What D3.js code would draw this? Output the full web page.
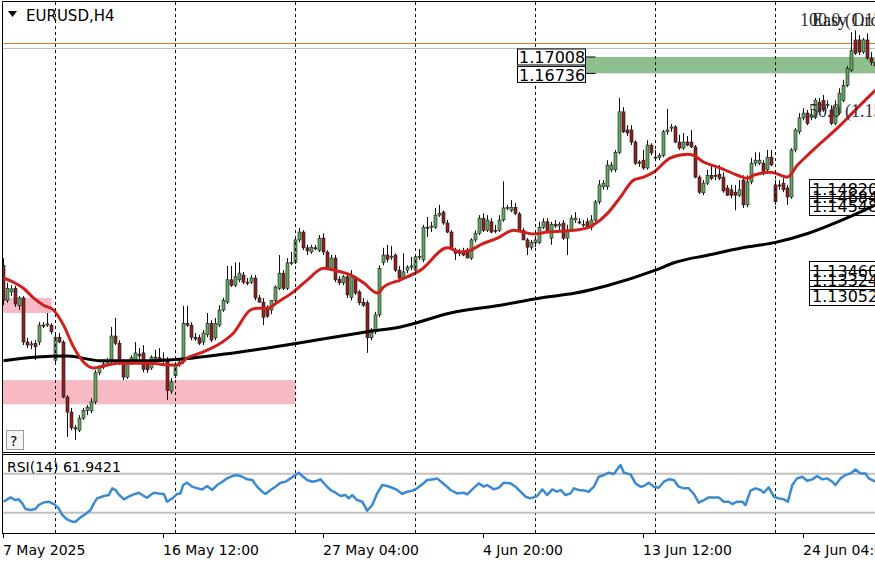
<!DOCTYPE html>
<html><head><meta charset="utf-8">
<script src="https://cdn.jsdelivr.net/npm/d3@7/dist/d3.min.js"></script>
<style>body{margin:0;background:#fff;overflow:hidden}svg{display:block;font-family:"DejaVu Sans",sans-serif}</style>
</head><body><svg id="c" width="875" height="562"></svg>
<script>
// ---- data (EURUSD H4) ----
const opens=[1.1356,1.1298,1.1312,1.1318,1.1289,1.1302,1.1229,1.1224,1.1227,1.1229,1.1257,1.1257,1.1257,1.1199,1.1237,1.1229,1.1138,1.1113,1.1087,1.1083,
1.1103,1.1116,1.1115,1.1130,1.1178,1.1188,1.1194,1.1198,1.1239,1.1227,1.1196,1.1171,1.1196,1.1199,1.1209,1.1211,1.1193,1.1186,1.1204,1.1203,
1.1201,1.1199,1.1148,1.1173,1.1193,1.1196,1.1260,1.1257,1.1237,1.1236,1.1229,1.1241,1.1260,1.1236,1.1257,1.1282,1.1295,1.1332,1.1323,1.1332,
1.1340,1.1328,1.1328,1.1335,1.1302,1.1295,1.1285,1.1282,1.1298,1.1318,1.1343,1.1318,1.1360,1.1361,1.1398,1.1411,1.1385,1.1378,1.1385,1.1381,
1.1401,1.1378,1.1351,1.1368,1.1333,1.1327,1.1337,1.1303,1.1335,1.1312,1.1295,1.1294,1.1236,1.1246,1.1274,1.1361,1.1373,1.1370,1.1373,1.1348,
1.1335,1.1348,1.1353,1.1348,1.1370,1.1365,1.1419,1.1419,1.1419,1.1439,1.1444,1.1426,1.1411,1.1380,1.1376,1.1378,1.1381,1.1368,1.1398,1.1409,
1.1434,1.1414,1.1428,1.1414,1.1414,1.1431,1.1451,1.1447,1.1452,1.1441,1.1414,1.1398,1.1386,1.1393,1.1394,1.1419,1.1428,1.1401,1.1424,1.1421,
1.1426,1.1401,1.1414,1.1431,1.1428,1.1423,1.1428,1.1419,1.1431,1.1461,1.1486,1.1486,1.1514,1.1514,1.1543,1.1610,1.1580,1.1580,1.1560,1.1527,
1.1530,1.1517,1.1555,1.1535,1.1534,1.1538,1.1577,1.1583,1.1585,1.1560,1.1550,1.1560,1.1560,1.1552,1.1502,1.1476,1.1492,1.1505,1.1505,1.1507,
1.1502,1.1484,1.1481,1.1477,1.1472,1.1497,1.1456,1.1494,1.1525,1.1525,1.1525,1.1514,1.1535,1.1489,1.1489,1.1492,1.1484,1.1469,1.1547,1.1577,
1.1600,1.1608,1.1601,1.1601,1.1626,1.1629,1.1621,1.1613,1.1591,1.1608,1.1629,1.1654,1.1679,1.1729,1.1729,1.1709,1.1729,1.1699,1.1692];
const highs=[1.1368,1.1327,1.1323,1.1322,1.1305,1.1305,1.1236,1.1231,1.1232,1.1262,1.1262,1.1277,1.1260,1.1242,1.1244,1.1232,1.1141,1.1120,1.1092,1.1108,
1.1120,1.1125,1.1136,1.1183,1.1191,1.1196,1.1203,1.1254,1.1269,1.1232,1.1199,1.1199,1.1207,1.1229,1.1219,1.1224,1.1199,1.1207,1.1216,1.1219,
1.1212,1.1204,1.1169,1.1196,1.1202,1.1289,1.1289,1.1262,1.1244,1.1241,1.1249,1.1277,1.1265,1.1269,1.1290,1.1302,1.1355,1.1355,1.1361,1.1361,
1.1345,1.1335,1.1340,1.1340,1.1307,1.1302,1.1290,1.1290,1.1323,1.1373,1.1348,1.1368,1.1378,1.1401,1.1418,1.1414,1.1390,1.1390,1.1390,1.1406,
1.1409,1.1381,1.1373,1.1373,1.1338,1.1340,1.1340,1.1348,1.1338,1.1315,1.1302,1.1298,1.1252,1.1279,1.1356,1.1385,1.1390,1.1388,1.1376,1.1355,
1.1376,1.1356,1.1370,1.1373,1.1383,1.1423,1.1436,1.1428,1.1451,1.1456,1.1447,1.1431,1.1414,1.1385,1.1383,1.1385,1.1385,1.1401,1.1414,1.1439,
1.1442,1.1439,1.1434,1.1423,1.1439,1.1495,1.1456,1.1464,1.1459,1.1444,1.1418,1.1401,1.1398,1.1401,1.1428,1.1434,1.1434,1.1428,1.1431,1.1428,
1.1431,1.1423,1.1439,1.1444,1.1434,1.1431,1.1434,1.1439,1.1464,1.1497,1.1497,1.1530,1.1527,1.1547,1.1633,1.1618,1.1588,1.1588,1.1563,1.1530,
1.1547,1.1563,1.1558,1.1547,1.1542,1.1580,1.1615,1.1590,1.1588,1.1572,1.1575,1.1570,1.1580,1.1555,1.1505,1.1497,1.1514,1.1522,1.1517,1.1522,
1.1510,1.1489,1.1489,1.1489,1.1497,1.1505,1.1505,1.1534,1.1543,1.1543,1.1530,1.1547,1.1547,1.1497,1.1497,1.1500,1.1489,1.1550,1.1583,1.1608,
1.1616,1.1613,1.1613,1.1633,1.1633,1.1638,1.1629,1.1621,1.1629,1.1649,1.1663,1.1686,1.1742,1.1745,1.1737,1.1732,1.1740,1.1709,1.1699];
const lows=[1.1290,1.1294,1.1305,1.1287,1.1282,1.1224,1.1219,1.1217,1.1199,1.1224,1.1252,1.1254,1.1242,1.1196,1.1227,1.1136,1.1072,1.1083,1.1067,1.1080,
1.1100,1.1108,1.1111,1.1126,1.1174,1.1184,1.1189,1.1194,1.1224,1.1191,1.1166,1.1168,1.1191,1.1196,1.1199,1.1179,1.1178,1.1183,1.1199,1.1196,
1.1193,1.1133,1.1143,1.1169,1.1188,1.1193,1.1254,1.1232,1.1231,1.1224,1.1224,1.1237,1.1229,1.1232,1.1254,1.1279,1.1292,1.1320,1.1320,1.1328,
1.1325,1.1323,1.1325,1.1298,1.1294,1.1257,1.1269,1.1275,1.1295,1.1315,1.1315,1.1315,1.1356,1.1358,1.1394,1.1381,1.1373,1.1375,1.1381,1.1378,
1.1373,1.1348,1.1348,1.1328,1.1323,1.1323,1.1302,1.1298,1.1307,1.1290,1.1287,1.1211,1.1232,1.1242,1.1270,1.1356,1.1361,1.1365,1.1345,1.1328,
1.1332,1.1343,1.1348,1.1345,1.1365,1.1361,1.1403,1.1411,1.1416,1.1436,1.1423,1.1409,1.1381,1.1365,1.1371,1.1371,1.1368,1.1365,1.1394,1.1406,
1.1411,1.1411,1.1409,1.1409,1.1411,1.1428,1.1447,1.1444,1.1439,1.1411,1.1398,1.1373,1.1381,1.1386,1.1391,1.1416,1.1411,1.1390,1.1418,1.1414,
1.1398,1.1373,1.1411,1.1426,1.1424,1.1419,1.1418,1.1414,1.1428,1.1457,1.1481,1.1481,1.1510,1.1510,1.1540,1.1575,1.1570,1.1555,1.1522,1.1519,
1.1514,1.1514,1.1538,1.1530,1.1530,1.1535,1.1572,1.1577,1.1558,1.1547,1.1547,1.1553,1.1550,1.1500,1.1474,1.1472,1.1489,1.1497,1.1497,1.1497,
1.1476,1.1471,1.1467,1.1447,1.1469,1.1451,1.1452,1.1490,1.1520,1.1522,1.1505,1.1510,1.1520,1.1456,1.1481,1.1477,1.1456,1.1466,1.1543,1.1573,
1.1596,1.1588,1.1596,1.1598,1.1605,1.1610,1.1616,1.1588,1.1588,1.1605,1.1626,1.1651,1.1676,1.1704,1.1704,1.1706,1.1696,1.1687,1.1679];
const closes=[1.1298,1.1318,1.1317,1.1292,1.1302,1.1229,1.1224,1.1226,1.1221,1.1257,1.1256,1.1259,1.1246,1.1237,1.1229,1.1138,1.1113,1.1087,1.1085,1.1103,
1.1116,1.1121,1.1130,1.1178,1.1188,1.1193,1.1198,1.1239,1.1227,1.1196,1.1171,1.1196,1.1203,1.1211,1.1206,1.1184,1.1183,1.1204,1.1203,1.1201,
1.1198,1.1149,1.1163,1.1191,1.1196,1.1260,1.1257,1.1237,1.1234,1.1227,1.1244,1.1260,1.1232,1.1260,1.1282,1.1298,1.1332,1.1323,1.1337,1.1343,
1.1328,1.1327,1.1335,1.1302,1.1295,1.1270,1.1272,1.1298,1.1320,1.1343,1.1318,1.1360,1.1361,1.1398,1.1411,1.1385,1.1380,1.1386,1.1384,1.1401,
1.1378,1.1351,1.1368,1.1332,1.1327,1.1337,1.1307,1.1337,1.1310,1.1294,1.1290,1.1236,1.1249,1.1274,1.1351,1.1373,1.1366,1.1371,1.1348,1.1335,
1.1345,1.1353,1.1355,1.1370,1.1371,1.1419,1.1418,1.1421,1.1439,1.1442,1.1426,1.1411,1.1385,1.1376,1.1377,1.1373,1.1368,1.1398,1.1409,1.1434,
1.1414,1.1431,1.1411,1.1413,1.1431,1.1451,1.1452,1.1452,1.1442,1.1414,1.1398,1.1386,1.1394,1.1398,1.1419,1.1428,1.1414,1.1424,1.1421,1.1424,
1.1401,1.1414,1.1434,1.1434,1.1426,1.1424,1.1419,1.1431,1.1461,1.1489,1.1492,1.1522,1.1522,1.1543,1.1610,1.1577,1.1575,1.1560,1.1525,1.1525,
1.1517,1.1555,1.1542,1.1534,1.1538,1.1577,1.1580,1.1585,1.1560,1.1550,1.1560,1.1555,1.1552,1.1502,1.1477,1.1492,1.1505,1.1500,1.1504,1.1500,
1.1479,1.1472,1.1472,1.1472,1.1481,1.1456,1.1494,1.1525,1.1530,1.1530,1.1510,1.1535,1.1522,1.1461,1.1487,1.1481,1.1469,1.1547,1.1580,1.1600,
1.1608,1.1591,1.1605,1.1629,1.1610,1.1613,1.1622,1.1591,1.1618,1.1641,1.1654,1.1682,1.1712,1.1707,1.1709,1.1729,1.1699,1.1692,1.1686];

// fast moving average (red), read points: bar index / price
const maFastBars=[0,2.5,5,7.5,10,12.5,15,17.5,20,22.5,25,28.5,32.5,36.75,41,43.5,46,49.25,53.5,57.5,61.75,63.5,66,68.5,72.5,76,80,82.5,86.75,90,93.5,95,99.25,104.25,111,114.25,116.75,119.25,123.5,127.5,132.5,136,141,146,147.5,151,154.25,157.5,160,162.5,166.75,171,172.5,175,179.25,183.5,186,187.5,191.75,196,198.5,201,204.25,209.25,212.5,218];
const maFast=[1.1335,1.1328,1.1318,1.1302,1.1290,1.1282,1.1257,1.1221,1.1196,1.1186,1.1189,1.1194,1.1194,1.1194,1.1191,1.1191,1.1203,1.1211,1.1224,1.1244,1.1282,1.1285,1.1285,1.1295,1.1312,1.1332,1.1351,1.1348,1.1340,1.1327,1.1310,1.1320,1.1332,1.1348,1.1385,1.1378,1.1381,1.1390,1.1401,1.1414,1.1408,1.1411,1.1413,1.1418,1.1423,1.1442,1.1469,1.1497,1.1502,1.1510,1.1534,1.1540,1.1538,1.1527,1.1517,1.1505,1.1500,1.1505,1.1510,1.1502,1.1522,1.1538,1.1558,1.1588,1.1610,1.1646];
// slow moving average (black)
const maSlowBars=[0,7.5,16,24.25,36.75,45,57.5,66,73.5,82.5,91,99.25,111.75,124.25,134.25,143,151.25,163,168,176.25,184.75,193,201.25,209.75,215.5,218];
const maSlow=[1.1198,1.1204,1.1206,1.1198,1.1198,1.1201,1.1211,1.1219,1.1227,1.1237,1.1246,1.1254,1.1277,1.1290,1.1302,1.1310,1.1323,1.1348,1.1361,1.1373,1.1385,1.1394,1.1409,1.1431,1.1448,1.1456];
// RSI(14) read points
const rsiBars=[0,1.75,3,3.8,4.7,5.5,6.75,8,8.8,10.1,11.3,12.6,13.8,14.7,15.9,17.2,18,19.25,20.5,21.75,22.6,23.4,25.1,26.3,27.2,28,28.8,30.1,31.3,32.6,33.8,35.1,35.9,36.75,37.6,38.8,40.1,40.9,42.2,43.4,44.25,44.9,45.9,47.2,48.4,49.7,50.9,52.2,53.4,54.7,55.9,57.2,58.4,59.7,60.9,62.2,63.4,64.7,65.5,66.75,68,69.25,70.5,71.75,73,73.8,74.7,75.9,77.2,78.4,79.25,80.5,81.75,83,84.25,85.5,86.3,87.2,88.4,89.7,90.9,92.2,93.4,94.7,95.9,97.2,98.4,99.7,100.9,102.2,103.4,104.7,105.9,107.6,108.4,109.7,110.9,
111.75,113.4,115.1,115.9,117.2,118.8,120.1,120.9,122.6,123.8,125.1,126.75,128,129.25,130.5,131.75,133.4,134.7,135.9,137.2,138.4,139.25,140.5,141.75,142.6,143.8,145.5,146.3,147.6,148.8,150.1,151.3,152.6,153.4,154.25,155.1,156.75,158,159.25,160.1,161.3,162.6,163.8,165.1,166.3,167.6,168.8,170.1,171.3,172.6,173.8,175.1,176.3,178.8,180.1,181.3,182.2,183.4,184.7,185.5,186.75,188,189.25,190.1,191.3,192.6,193.8,195.1,196.1,197.2,198.4,199.7,200.9,202.2,203.4,204.7,205.9,207.2,208,209.25,210.5,211.75,213,214.25,215.5,216.3,218];
const rsiValues=[41.3,45.7,43.0,43.7,39.6,33.8,32.7,33.8,37.9,40.6,41.3,38.9,34.4,27.6,23.2,20.8,20.8,25.2,28.6,32.7,39.6,44.7,47.1,48.1,55.0,53.3,48.8,43.7,46.4,48.8,50.5,47.1,45.4,48.1,50.5,49.8,49.2,41.3,44.7,49.2,49.8,58.4,60.8,56.7,55.0,53.9,57.4,53.3,58.4,61.8,65.2,67.6,68.6,66.9,64.2,63.5,56.7,51.5,49.2,53.3,56.7,60.8,61.8,65.2,68.6,71.0,67.6,63.5,61.8,62.8,64.2,58.4,53.3,50.5,47.1,48.1,44.7,48.1,43.0,41.3,32.1,37.9,49.8,58.4,57.4,55.6,53.3,49.2,51.5,52.6,55.0,59.1,63.5,64.2,65.2,60.8,56.7,
53.3,49.8,50.5,48.8,53.9,60.1,56.7,58.4,53.9,55.6,60.8,60.1,56.7,51.5,46.4,44.7,47.1,53.9,48.1,53.9,51.5,53.3,48.1,49.8,55.0,53.3,52.6,51.5,56.7,66.9,68.6,71.0,69.7,74.4,78.9,71.0,69.3,60.1,56.7,57.4,60.8,56.7,55.6,61.8,64.2,63.5,56.7,55.0,55.0,49.2,40.3,43.0,45.7,45.7,41.3,41.3,38.9,41.3,41.3,37.9,52.6,55.0,53.3,50.5,56.0,46.4,44.7,43.7,41.3,58.4,65.2,66.9,62.8,64.2,67.6,64.2,65.2,61.8,58.4,65.2,68.6,70.3,74.4,70.3,70.3,65.2,61.9];
const rsiLevels=[70,30];

const weekBars=[13,43,73,103,133,163,193];
const tickBars=[0,40,80,120,160,200];
const tickLabels=["7 May 2025","16 May 12:00","27 May 04:00","4 Jun 20:00","13 Jun 12:00","24 Jun 04:00"];
const symbolLabel="EURUSD,H4";
const rsiLabel="RSI(14) 61.9421";
const pinkZones=[[0,12,1.1302,1.1277],[0,73,1.1166,1.1126]];
const greenZone=[148,218,1.17008,1.16736];
const hLinePrices=[1.17234,1.17152];
const zoneTags=[1.17008,1.16736];
const rightTags=[1.14684,1.14820,1.14548,1.13460,1.13324,1.13052];
const fibTexts=[["100.0 (1.17450)",1.1762],["50.0 (1.15587)",1.1612]];
const toolText=["Easy Order",1.1762];

// ---- drawing ----
const W=875,H=562;
const svg=d3.select("#c");
const mainTop=2,mainBot=452.5,rsiTop=454,rsiBot=533;
const x=d3.scaleLinear().domain([0,218]).range([3.5,875.5]);
const y=d3.scaleLinear().domain([1.10470,1.17951]).range([452,0]);
const yr=d3.scaleLinear().domain([9.2,90.2]).range([533,454]);

const defs=svg.append("defs");
defs.append("clipPath").attr("id","cm").append("rect").attr("x",2.5).attr("y",mainTop).attr("width",W).attr("height",mainBot-mainTop);
defs.append("clipPath").attr("id","cr").append("rect").attr("x",2.5).attr("y",rsiTop).attr("width",W).attr("height",rsiBot-rsiTop);

svg.append("rect").attr("width",W).attr("height",H).attr("fill","#fff");
const gm=svg.append("g").attr("clip-path","url(#cm)");

// zones
gm.selectAll("rect.pz").data(pinkZones).join("rect").attr("class","pz")
 .attr("x",2.5).attr("width",d=>x(d[1])-2.5).attr("y",d=>y(d[2])).attr("height",d=>y(d[3])-y(d[2]))
 .attr("fill","#f7b9c4");
gm.append("rect").attr("x",x(greenZone[0])-13.5).attr("width",W).attr("y",y(greenZone[2])).attr("height",y(greenZone[3])-y(greenZone[2])).attr("fill","#8fbf8f");

// horizontal lines
const hColors=["#e07a2c","#bdbdbd"];
gm.selectAll("line.hl").data(hLinePrices).join("line").attr("class","hl")
 .attr("x1",0).attr("x2",W).attr("y1",d=>Math.round(y(d))+0.5).attr("y2",d=>Math.round(y(d))+0.5)
 .attr("stroke",(d,i)=>hColors[i]).attr("stroke-width",1.2);

// week separators
svg.selectAll("line.wk").data(weekBars).join("line").attr("class","wk")
 .attr("x1",d=>x(d)).attr("x2",d=>x(d)).attr("y1",mainTop).attr("y2",rsiBot)
 .attr("stroke","#000").attr("stroke-width",1).attr("stroke-dasharray","3,3");

// candles
const bars=d3.range(opens.length).map(i=>({i,o:opens[i],h:Math.max(highs[i],opens[i],closes[i]),l:Math.min(lows[i],opens[i],closes[i]),c:closes[i]}));
const cg=gm.append("g");
cg.selectAll("line.wick").data(bars).join("line").attr("class","wick")
 .attr("x1",d=>x(d.i)).attr("x2",d=>x(d.i)).attr("y1",d=>y(d.h)).attr("y2",d=>y(d.l))
 .attr("stroke","#111").attr("stroke-width",1);
cg.selectAll("rect.body").data(bars).join("rect").attr("class","body")
 .attr("x",d=>x(d.i)-1.5).attr("width",3)
 .attr("y",d=>y(Math.max(d.o,d.c)))
 .attr("height",d=>Math.max(1,Math.abs(y(d.o)-y(d.c))))
 .attr("fill",d=>d.c>=d.o?"#62a862":"#8e1f1f")
 .attr("stroke","#1b1b1b").attr("stroke-width",0.6);

// moving averages
const lineMA=d3.line().curve(d3.curveMonotoneX);
gm.append("path").attr("d",lineMA(maSlowBars.map((b,i)=>[x(b),y(maSlow[i])])))
 .attr("fill","none").attr("stroke","#000").attr("stroke-width",3);
gm.append("path").attr("d",lineMA(maFastBars.map((b,i)=>[x(b),y(maFast[i])])))
 .attr("fill","none").attr("stroke","#d01f1f").attr("stroke-width",3);

// zone tags
const tagG=svg.append("g").attr("font-size",16).attr("fill","#000");
zoneTags.forEach((p,k)=>{
  const cy=k===0?y(p)+0.5:y(p)+1.5;
  tagG.append("rect").attr("x",517.5).attr("y",cy-8.5).attr("width",68).attr("height",16).attr("fill","#fff").attr("stroke","#000");
  tagG.append("text").attr("x",519).attr("y",cy+6).text(p.toFixed(5));
});
tagG.append("path").attr("d",`M585.5,${y(greenZone[2])}H595.5M585.5,${y(greenZone[3])}H595.5`).attr("stroke","#000");

// right tags (transparent, overlapping)
rightTags.forEach(p=>{
  const cy=y(p);
  tagG.append("rect").attr("x",809.5).attr("y",Math.round(cy-10)+0.5).attr("width",80).attr("height",19).attr("fill","none").attr("stroke","#000");
  tagG.append("text").attr("x",812).attr("y",cy+6).text(p.toFixed(5));
});

// fibo / tool texts (serif, as in the reference)
fibTexts.forEach((f,k)=>{
  svg.append("text").attr("x",k===0?800:809).attr("y",y(f[1])+6).attr("font-family","'Liberation Serif',serif").attr("font-size",18).attr("fill","#333").text(f[0]);
});
svg.append("text").attr("x",812).attr("y",y(toolText[1])+6).attr("font-family","'Liberation Serif',serif").attr("font-size",18).attr("fill","#222").text(toolText[0]);

// RSI panel
const gr=svg.append("g").attr("clip-path","url(#cr)");
gr.selectAll("line.lv").data(rsiLevels).join("line").attr("class","lv")
 .attr("x1",0).attr("x2",W).attr("y1",d=>yr(d)).attr("y2",d=>yr(d)).attr("stroke","#c0c0c0").attr("stroke-width",2);
gr.append("path").attr("d",d3.line()(rsiBars.map((b,i)=>[x(b),yr(rsiValues[i])])))
 .attr("fill","none").attr("stroke","#3a8bd4").attr("stroke-width",2.5).attr("stroke-linejoin","round");

// frames
const fr=svg.append("g").attr("stroke","#000").attr("fill","none").attr("stroke-width",1);
fr.append("path").attr("d",`M2.5,${rsiBot}V1.5H${W}`);
fr.append("line").attr("x1",2).attr("x2",W).attr("y1",452.5).attr("y2",452.5);
fr.append("line").attr("x1",2).attr("x2",W).attr("y1",454.5).attr("y2",454.5);
fr.append("line").attr("x1",2).attr("x2",W).attr("y1",rsiBot+0.5).attr("y2",rsiBot+0.5);

// time axis
const ax=svg.append("g");
ax.selectAll("line.tk").data(tickBars).join("line").attr("class","tk")
 .attr("x1",d=>x(d)).attr("x2",d=>x(d)).attr("y1",rsiBot).attr("y2",rsiBot+5).attr("stroke","#000");
ax.selectAll("text").data(tickBars).join("text")
 .attr("x",d=>x(d)-0.5).attr("y",555).attr("font-size",14).attr("fill","#000").text((d,i)=>tickLabels[i]);

// labels
svg.append("path").attr("d","M8,11H17L12.5,17Z").attr("fill","#000");
svg.append("text").attr("x",26).attr("y",21).attr("font-size",15).attr("fill","#000").text(symbolLabel);
svg.append("text").attr("x",7).attr("y",472).attr("font-size",14).attr("fill","#000").text(rsiLabel);
svg.append("rect").attr("x",6.5).attr("y",430.5).attr("width",17).attr("height",19).attr("fill","#f4f4f4").attr("stroke","#9a9a9a");
svg.append("text").attr("x",10).attr("y",446).attr("font-size",14).attr("fill","#000").text("?");
</script></body></html>
